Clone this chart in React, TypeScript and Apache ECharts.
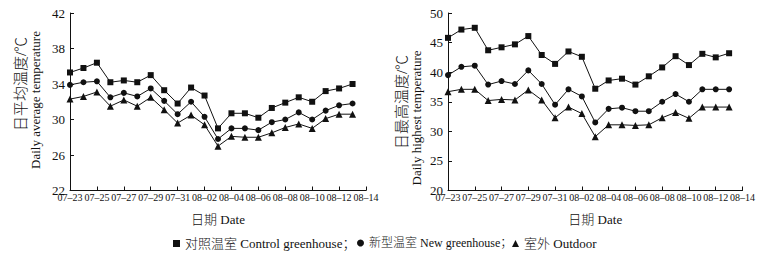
import React, { useEffect, useRef } from "react";
import * as echarts from "echarts";

const dates = [
  "07–23", "07–24", "07–25", "07–26", "07–27", "07–28", "07–29", "07–30", "07–31", "08–01", "08–02", "08–03",
  "08–04", "08–05", "08–06", "08–07", "08–08", "08–09", "08–10", "08–11", "08–12", "08–13", "08–14",
];

const seriesNames = ["对照温室 Control greenhouse", "新型温室 New greenhouse", "室外 Outdoor"];

// Daily average temperature
const avgControl = [35.3, 35.8, 36.4, 34.2, 34.4, 34.2, 35.0, 33.3, 31.8, 33.6, 32.7, 29.0, 30.7, 30.7, 30.2, 31.3, 31.9, 32.5, 32.0, 33.2, 33.5, 34.0];
const avgNew = [33.9, 34.2, 34.3, 32.5, 33.0, 32.6, 33.5, 32.1, 30.6, 32.0, 30.3, 27.8, 29.0, 29.0, 28.8, 29.7, 30.0, 30.8, 30.0, 31.0, 31.6, 31.8];
const avgOutdoor = [32.3, 32.6, 33.1, 31.5, 32.2, 31.5, 32.5, 31.1, 29.6, 30.5, 29.4, 27.0, 28.1, 28.0, 28.0, 28.5, 29.1, 29.5, 29.0, 30.1, 30.6, 30.6];

// Daily highest temperature
const maxControl = [45.8, 47.2, 47.5, 43.7, 44.2, 44.7, 46.1, 42.9, 41.4, 43.5, 42.6, 37.2, 38.6, 38.9, 37.9, 39.3, 40.8, 42.7, 41.2, 43.1, 42.5, 43.2];
const maxNew = [39.5, 40.9, 41.1, 37.9, 38.5, 38.0, 40.3, 38.0, 34.5, 37.1, 35.9, 31.5, 33.8, 34.0, 33.4, 33.4, 35.0, 36.3, 35.0, 37.1, 37.1, 37.1];
const maxOutdoor = [36.7, 37.1, 37.1, 35.2, 35.4, 35.3, 37.0, 35.3, 32.3, 34.1, 33.0, 29.1, 31.1, 31.1, 31.0, 31.1, 32.3, 33.2, 32.2, 34.1, 34.1, 34.1];

const avgTicks = [22, 26, 30, 34, 38, 42];
const maxTicks = [20, 25, 30, 35, 40, 45, 50];

const SERIF = "'Liberation Serif', 'Times New Roman', 'Noto Sans CJK SC', serif";
const INK = "#111";

export default function App() {
  const ref = useRef<HTMLDivElement>(null);

  useEffect(() => {
    if (!ref.current) return;
    const chart = echarts.init(ref.current, undefined, { renderer: "svg" });

    const symbols = ["rect", "circle", "triangle"];
    const sizes = [6, 6, 7];
    const legendLefts = [168, 352, 507];
    const legendFonts = [13, 12, 13];

    const xAxisBase = (gridIndex: number) => ({
      type: "category" as const,
      gridIndex,
      data: dates,
      boundaryGap: false,
      axisLine: { lineStyle: { color: INK, width: 1 } },
      axisTick: { inside: true, length: 4, interval: 1, lineStyle: { color: INK } },
      axisLabel: {
        interval: 1,
        margin: 2,
        fontSize: 10,
        color: INK,
        fontFamily: SERIF,
      },
      name: "日期 Date",
      nameLocation: "middle" as const,
      nameGap: 22,
      nameTextStyle: { fontSize: 13, color: INK, fontFamily: SERIF, fontWeight: 300 },
      splitLine: { show: false },
    });

    const yAxisBase = (gridIndex: number, min: number, max: number, ticks: number[]) => ({
      type: "value" as const,
      gridIndex,
      min,
      max,
      axisLine: { show: true, lineStyle: { color: INK, width: 1 } },
      axisTick: { show: true, inside: true, length: 4, customValues: ticks, lineStyle: { color: INK } },
      axisLabel: { customValues: ticks, margin: 5, fontSize: 13, color: INK, fontFamily: SERIF },
      splitLine: { show: false },
    });

    const mk = (name: string, idx: number, data: number[], axisIndex: number) => ({
      type: "line" as const,
      name,
      xAxisIndex: axisIndex,
      yAxisIndex: axisIndex,
      data,
      symbol: symbols[idx],
      symbolSize: sizes[idx],
      showSymbol: true,
      lineStyle: { color: INK, width: 1 },
      itemStyle: { color: INK },
      emphasis: { disabled: true },
    });

    const titleStyle = (text: string, size: number) => ({
      text,
      fontSize: size,
      fill: INK,
      fontFamily: SERIF,
      fontWeight: 300,
      align: "center",
      verticalAlign: "middle",
    });

    chart.setOption({
      animation: false,
      backgroundColor: "#fff",
      grid: [
        { left: 70, top: 13, width: 296, height: 177.5 },
        { left: 448, top: 13, width: 295, height: 177.5 },
      ],
      xAxis: [xAxisBase(0), xAxisBase(1)],
      yAxis: [yAxisBase(0, 22, 42, avgTicks), yAxisBase(1, 20, 50, maxTicks)],
      legend: seriesNames.map((n, i) => ({
        left: legendLefts[i],
        top: 232,
        itemWidth: 7,
        itemHeight: 7,
        selectedMode: false,
        data: [{ name: n, icon: symbols[i] }],
        formatter: (name: string) => (name === seriesNames[2] ? name : name + "；"),
        textStyle: { fontSize: legendFonts[i], color: INK, fontFamily: SERIF, fontWeight: 300 },
        itemStyle: { color: INK },
      })),
      graphic: [
        { type: "text", x: 21, y: 84, rotation: Math.PI / 2, style: titleStyle("日平均温度/℃", 15) },
        { type: "text", x: 35, y: 100, rotation: Math.PI / 2, style: titleStyle("Daily average temperature", 13) },
        { type: "text", x: 402, y: 102, rotation: Math.PI / 2, style: titleStyle("日最高温度/℃", 15) },
        { type: "text", x: 416, y: 118, rotation: Math.PI / 2, style: titleStyle("Daily highest temperature", 13) },
      ],
      series: [
        mk(seriesNames[0], 0, avgControl, 0),
        mk(seriesNames[1], 1, avgNew, 0),
        mk(seriesNames[2], 2, avgOutdoor, 0),
        mk(seriesNames[0], 0, maxControl, 1),
        mk(seriesNames[1], 1, maxNew, 1),
        mk(seriesNames[2], 2, maxOutdoor, 1),
      ],
    });

    return () => chart.dispose();
  }, []);

  return (
    <div
      ref={ref}
      style={{ position: "absolute", left: 0, top: 0, width: 758, height: 254, background: "#fff" }}
    />
  );
}
